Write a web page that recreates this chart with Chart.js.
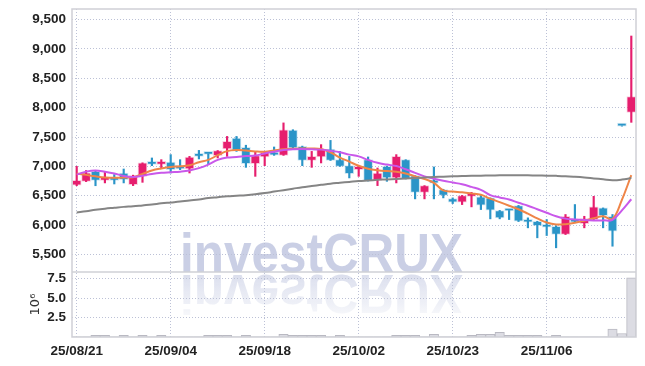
<!DOCTYPE html>
<html>
<head>
<meta charset="utf-8">
<script src="https://cdn.jsdelivr.net/npm/chart.js@4.4.0/dist/chart.umd.min.js"></script>
<style>
  html, body { margin: 0; padding: 0; background: #fff; }
</style>
</head>
<body>
<canvas id="chart" width="645" height="366"></canvas>
<script>
// ---------- Data ----------
const dates = [
  '25/08/21','25/08/22','25/08/25','25/08/26','25/08/27','25/08/28','25/08/29','25/09/01','25/09/02','25/09/03',
  '25/09/04','25/09/05','25/09/08','25/09/09','25/09/10','25/09/11','25/09/12','25/09/15','25/09/16','25/09/17',
  '25/09/18','25/09/19','25/09/22','25/09/23','25/09/24','25/09/25','25/09/26','25/09/29','25/09/30','25/10/01',
  '25/10/02','25/10/10','25/10/13','25/10/14','25/10/15','25/10/16','25/10/17','25/10/20','25/10/21','25/10/22',
  '25/10/23','25/10/24','25/10/27','25/10/28','25/10/29','25/10/30','25/10/31','25/11/03','25/11/04','25/11/05',
  '25/11/06','25/11/07','25/11/10','25/11/11','25/11/12','25/11/13','25/11/14','25/11/17','25/11/18','25/11/19'
];

const opens = [
  6680, 6745, 6915, 6762, 6803, 6887, 6689, 6830, 7068, 7034,
  7075, 7017, 6956, 7216, 7215, 7182, 7296, 7480, 7323, 7046,
  7160, 7245, 7187, 7620, 7340, 7102, 7160, 7296, 7114, 7012,
  6944, 7114, 6762, 7000, 6803, 7114, 6842, 6558, 6725, 6604,
  6451, 6388, 6490, 6480, 6463, 6247, 6250, 6332, 6082, 6065,
  6010, 5980, 5839, 6094, 6026, 6094, 6292, 6150, 7690, 7918
];
const highs = [
  7000, 6930, 6920, 6905, 6860, 6955, 6850, 7060, 7143, 7114,
  7200, 7114, 7170, 7272, 7215, 7270, 7510, 7510, 7360, 7255,
  7250, 7330, 7740, 7624, 7345, 7255, 7370, 7442, 7255, 7170,
  7005, 7160, 6972, 7005, 7200, 7114, 6842, 6672, 6990, 6610,
  6463, 6505, 6558, 6520, 6463, 6250, 6250, 6335, 6123, 6065,
  6094, 5990, 6180, 6350, 6150, 6490, 6292, 6180, 7690, 9220
];
const lows = [
  6670, 6740, 6670, 6718, 6700, 6718, 6672, 6728, 7012, 6973,
  6887, 6944, 6887, 7126, 7040, 7143, 7170, 7255, 6983, 6830,
  7012, 7187, 7187, 7312, 7012, 6983, 7058, 7100, 7000, 6803,
  6830, 6750, 6672, 6745, 6718, 6785, 6446, 6446, 6446, 6463,
  6366, 6349, 6310, 6264, 6106, 6106, 6094, 6060, 5953, 5783,
  5822, 5613, 5839, 6048, 5953, 6094, 5953, 5640, 7685, 7750
];
const closes = [
  6760, 6890, 6760, 6820, 6762, 6774, 6842, 7058, 7034, 7085,
  6944, 6956, 7160, 7170, 7205, 7267, 7425, 7272, 7046, 7182,
  7245, 7190, 7624, 7312, 7102, 7170, 7296, 7102, 7000, 6876,
  7000, 6757, 6887, 6803, 7170, 6785, 6558, 6672, 6715, 6507,
  6388, 6502, 6531, 6337, 6252, 6123, 6240, 6065, 6048, 5992,
  5963, 5839, 6150, 6048, 6111, 6309, 6162, 5895, 7685, 8190
];

// volume in millions
const volumes = [
  0.03, 0.03, 0.2, 0.2, 0.03, 0.2, 0.03, 0.2, 0.03, 0.2,
  0.03, 0.03, 0.03, 0.03, 0.2, 0.2, 0.2, 0.03, 0.2, 0.03,
  0.03, 0.03, 0.35, 0.2, 0.2, 0.2, 0.2, 0.03, 0.2, 0.03,
  0.03, 0.03, 0.03, 0.03, 0.2, 0.2, 0.2, 0.03, 0.35, 0.03,
  0.03, 0.03, 0.2, 0.35, 0.35, 0.6, 0.2, 0.2, 0.2, 0.2,
  0.03, 0.2, 0.03, 0.03, 0.03, 0.03, 0.03, 1.0, 0.45, 7.6
];

// moving average lines as drawn
const ma5 = [
  6880, 6855, 6830, 6810, 6805, 6810, 6815, 6870, 6930, 6965,
  6990, 7000, 7020, 7070, 7110, 7190, 7260, 7280, 7270, 7255,
  7250, 7270, 7290, 7300, 7305, 7305, 7295, 7240, 7150, 7080,
  7010, 6960, 6935, 6920, 6910, 6880, 6830, 6785, 6720, 6590,
  6570, 6560, 6540, 6515, 6450, 6390, 6330, 6270, 6195, 6115,
  6045, 6010, 6015, 6040, 6075, 6115, 6150, 6105, 6430, 6850
];
const ma10 = [
  6860, 6910, 6930, 6910, 6880, 6835, 6820, 6840, 6870, 6890,
  6900, 6910, 6930, 6970, 7030, 7110, 7150, 7160, 7175, 7185,
  7220, 7250, 7280, 7290, 7295, 7290, 7285, 7265, 7240, 7200,
  7170, 7110, 7060, 7030, 7005, 6950, 6890, 6830, 6790, 6755,
  6725, 6695, 6650, 6600, 6510, 6470, 6435, 6380, 6330, 6270,
  6210, 6150, 6110, 6095, 6085, 6080, 6080, 6090, 6250, 6440
];
const maLong = [
  6215, 6235, 6260, 6280, 6295, 6310, 6320, 6335, 6350, 6370,
  6385, 6400, 6420, 6435, 6460, 6475, 6490, 6500, 6510, 6525,
  6545, 6570, 6595, 6620, 6645, 6665, 6685, 6705, 6720, 6735,
  6750, 6760, 6770, 6778, 6785, 6792, 6800, 6810, 6818, 6825,
  6830, 6835, 6840, 6842, 6845, 6847, 6848, 6848, 6847, 6845,
  6842, 6838, 6832, 6822, 6810, 6795, 6780, 6765, 6775, 6800
];

const priceTicks = [5500, 6000, 6500, 7000, 7500, 8000, 8500, 9000, 9500];
const volTicks = [2.5, 5.0, 7.5];

// ---------- Styles ----------
const UP = '#e61e6e';
const DOWN = '#2b95c8';
const UP_HALO = 'rgba(230,30,110,0.22)';
const DOWN_HALO = 'rgba(43,149,200,0.22)';
const GRID = '#bcc1d6';
const FRAME = '#cfd0d6';
const TICK_FONT = { family: '"Liberation Sans", Arial, sans-serif', size: 13.5, weight: 'bold' };

const isUp = opens.map((o, i) => closes[i] >= o);
const candleColors = isUp.map(u => (u ? UP : DOWN));
const haloColors = isUp.map(u => (u ? UP_HALO : DOWN_HALO));
const wicks = dates.map((d, i) => [lows[i], highs[i]]);
const bodies = dates.map((d, i) => [Math.min(opens[i], closes[i]), Math.max(opens[i], closes[i])]);

// fixed axis sizes, no extra padding for tick labels
function fitLeft(s) { s.width = 72; s.paddingTop = 0; s.paddingBottom = 0; }

// ---------- Plugins ----------
const watermark = {
  id: 'watermark',
  beforeDraw(chart) {
    const ctx = chart.ctx;
    const text = 'investCRUX';
    const left = 180, base = 272, width = 283;
    ctx.save();
    ctx.font = 'bold 56px "Liberation Sans", Arial, sans-serif';
    const sx = width / ctx.measureText(text).width;
    // main text
    ctx.save();
    ctx.translate(left, base);
    ctx.scale(sx, 1);
    ctx.fillStyle = 'rgba(196,202,226,0.9)';
    ctx.fillText(text, 0, 0);
    ctx.restore();
    // reflection
    ctx.save();
    ctx.translate(left, base + 3);
    ctx.scale(sx, -1);
    const g = ctx.createLinearGradient(0, 0, 0, -44);
    g.addColorStop(0, 'rgba(196,202,226,0.6)');
    g.addColorStop(1, 'rgba(196,202,226,0.1)');
    ctx.fillStyle = g;
    ctx.fillText(text, 0, 0);
    ctx.restore();
    ctx.restore();
  }
};

const frame = {
  id: 'frame',
  afterDatasetsDraw(chart) {
    const { ctx, chartArea: a, scales } = chart;
    ctx.save();
    ctx.strokeStyle = FRAME;
    ctx.lineWidth = 1.5;
    ctx.strokeRect(a.left, a.top, a.right - a.left, a.bottom - a.top);
    ctx.beginPath();
    ctx.moveTo(a.left, scales.y.bottom);
    ctx.lineTo(a.right, scales.y.bottom);
    ctx.stroke();
    ctx.restore();
  }
};

// ---------- Chart ----------
const lineDs = (data, color) => ({
  type: 'line', data, yAxisID: 'y', borderColor: color, borderWidth: 2,
  pointRadius: 0, tension: 0.4, order: 0, fill: false
});

new Chart(document.getElementById('chart').getContext('2d'), {
  type: 'bar',
  data: {
    labels: dates,
    datasets: [
      lineDs(maLong, '#858585'),
      lineDs(ma10, '#c958ea'),
      lineDs(ma5, '#ef8548'),
      {
        data: bodies, yAxisID: 'y', backgroundColor: candleColors,
        borderColor: haloColors, borderWidth: 1, borderSkipped: false,
        barThickness: 9, minBarLength: 3, grouped: false, order: 1
      },
      {
        data: wicks, yAxisID: 'y', backgroundColor: candleColors,
        barThickness: 1.5, grouped: false, order: 2
      },
      {
        data: volumes, yAxisID: 'yv', backgroundColor: '#dcdce3',
        borderColor: '#b9b9c2', borderWidth: 1, borderSkipped: 'bottom',
        barPercentage: 1, categoryPercentage: 1, grouped: false, order: 3
      }
    ]
  },
  options: {
    responsive: false,
    animation: false,
    layout: { padding: { top: 9, right: 9, left: 0, bottom: 0 } },
    plugins: { legend: { display: false }, tooltip: { enabled: false } },
    scales: {
      x: {
        offset: true,
        afterFit: s => { s.height = 29; },
        border: { display: false, dash: [1, 2] },
        grid: {
          offset: false, drawTicks: false, lineWidth: 1,
          color: c => (c.index % 10 === 0 ? GRID : 'rgba(0,0,0,0)')
        },
        ticks: {
          autoSkip: false, maxRotation: 0, padding: 6, color: '#222', font: TICK_FONT,
          callback: (v, i) => (i % 10 === 0 ? dates[i] : '')
        }
      },
      yv: {
        position: 'left', stack: 'panes', stackWeight: 1,
        min: 0, max: 8.33,
        afterFit: fitLeft,
        afterBuildTicks: s => { s.ticks = volTicks.map(v => ({ value: v })); },
        border: { display: false, dash: [1, 2] },
        grid: { drawTicks: false, color: GRID },
        ticks: { autoSkip: false, padding: 6, color: '#222', font: TICK_FONT, callback: v => v.toFixed(1) },
        title: { display: true, text: '10⁶', color: '#333', padding: { top: 28, bottom: 0 },
                 font: { family: '"DejaVu Sans", sans-serif', size: 13 } }
      },
      y: {
        position: 'left', stack: 'panes', stackWeight: 4.05,
        min: 5200, max: 9680,
        afterFit: fitLeft,
        afterBuildTicks: s => { s.ticks = priceTicks.map(v => ({ value: v })); },
        border: { display: false, dash: [1, 2] },
        grid: { drawTicks: false, color: GRID },
        ticks: { autoSkip: false, padding: 6, color: '#222', font: TICK_FONT, callback: v => v.toLocaleString('en-US') }
      }
    }
  },
  plugins: [watermark, frame]
});
</script>
</body>
</html>
